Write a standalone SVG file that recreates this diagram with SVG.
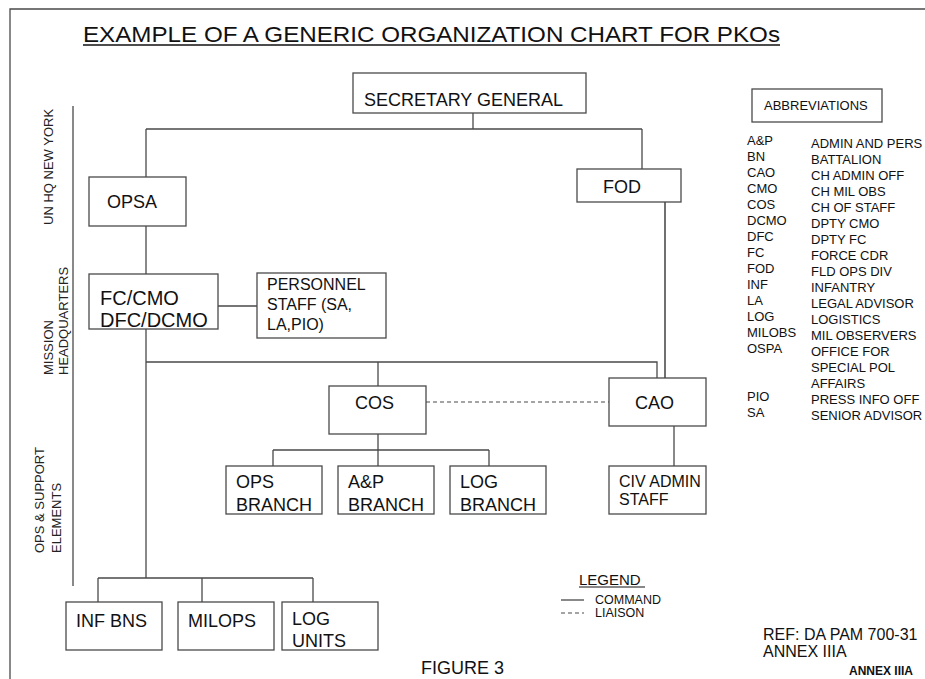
<svg xmlns="http://www.w3.org/2000/svg" width="925" height="679" viewBox="0 0 925 679">
<style>
text{font-family:"Liberation Sans",Arial,sans-serif;fill:#111}
.box{fill:#fff;stroke:#4a4a4a;stroke-width:1.3}
.ln{fill:none;stroke:#4a4a4a;stroke-width:1.3}
.blk{fill:none;stroke:#111;stroke-width:1.2}
.dash{fill:none;stroke:#4a4a4a;stroke-width:1.2;stroke-dasharray:4 3}
.n18{font-size:18px}
.n16{font-size:16px}
.sec{font-size:13px;fill:#222}
.ab{font-size:13px}
</style>
<rect width="925" height="679" fill="#fff"/>
<g id="frame">
<path class="ln" d="M10,679 V9 H925"/>
<path class="ln" d="M73,106 V586"/>
</g>
<g id="title">
<text x="83" y="42" font-size="22" textLength="697" lengthAdjust="spacingAndGlyphs">EXAMPLE OF A GENERIC ORGANIZATION CHART FOR PKOs</text>
<line x1="83" y1="45" x2="780" y2="45" stroke="#111" stroke-width="1.5"/>
</g>
<g id="section-labels">
<text class="sec" transform="translate(53,225) rotate(-90)">UN HQ NEW YORK</text>
<text class="sec" transform="translate(53,375) rotate(-90)">MISSION</text>
<text class="sec" transform="translate(68,375) rotate(-90)">HEADQUARTERS</text>
<text class="sec" transform="translate(44,553) rotate(-90)">OPS &amp; SUPPORT</text>
<text class="sec" transform="translate(61,553) rotate(-90)">ELEMENTS</text>
</g>
<g id="connectors">
<path class="ln" d="M473,113 V129 M146,129 H642 M146,129 V177 M642,129 V169 M146,226 V274 M218,306 H257 M146,329 V578 M146,362 H657 V378 M378,362 V386 M674,426 V466 M378,434 V450 M273,450 H489 M273,450 V466 M378,450 V466 M489,450 V466 M98,578 H313 M98,578 V602 M202,578 V602 M313,578 V602"/>
<path class="blk" d="M665,202 V378"/>
<path class="dash" d="M426,402 H609"/>
</g>
<g id="sg"><rect class="box" x="353" y="73" width="233" height="40"/><text class="n18" x="364" y="106">SECRETARY GENERAL</text></g>
<g id="opsa"><rect class="box" x="89" y="177" width="97" height="49"/><text class="n18" x="107" y="208">OPSA</text></g>
<g id="fod"><rect class="box" x="577" y="169" width="104" height="33"/><text class="n18" x="603" y="193">FOD</text></g>
<g id="fc"><rect class="box" x="89" y="274" width="129" height="55"/><text font-size="20" x="100" y="305">FC/CMO</text><text font-size="20" x="100" y="327">DFC/DCMO</text></g>
<g id="pers"><rect class="box" x="257" y="273" width="129" height="65"/><text class="n16" x="267" y="290">PERSONNEL</text><text class="n16" x="267" y="310">STAFF (SA,</text><text class="n16" x="267" y="330">LA,PIO)</text></g>
<g id="cos"><rect class="box" x="329" y="386" width="97" height="48"/><text class="n18" x="355" y="409">COS</text></g>
<g id="cao"><rect class="box" x="609" y="378" width="97" height="48"/><text class="n18" x="635" y="409">CAO</text></g>
<g id="ops-branch"><rect class="box" x="226" y="466" width="96" height="48"/><text class="n18" x="236" y="488">OPS</text><text class="n18" x="236" y="511">BRANCH</text></g>
<g id="ap-branch"><rect class="box" x="338" y="466" width="96" height="48"/><text class="n18" x="348" y="488">A&amp;P</text><text class="n18" x="348" y="511">BRANCH</text></g>
<g id="log-branch"><rect class="box" x="450" y="466" width="96" height="48"/><text class="n18" x="460" y="488">LOG</text><text class="n18" x="460" y="511">BRANCH</text></g>
<g id="civ-admin"><rect class="box" x="609" y="466" width="97" height="48"/><text class="n16" x="619" y="487">CIV ADMIN</text><text class="n16" x="619" y="505">STAFF</text></g>
<g id="inf-bns"><rect class="box" x="66" y="602" width="96" height="48"/><text class="n18" x="76" y="627">INF BNS</text></g>
<g id="milops"><rect class="box" x="178" y="602" width="96" height="48"/><text class="n18" x="188" y="627">MILOPS</text></g>
<g id="log-units"><rect class="box" x="282" y="602" width="96" height="48"/><text class="n18" x="292" y="625">LOG</text><text class="n18" x="292" y="647">UNITS</text></g>
<g id="abbreviations">
<rect class="box" x="752" y="89" width="130" height="33"/>
<text class="ab" x="764" y="110">ABBREVIATIONS</text>
<g class="ab">
<text class="ab" x="747" y="145">A&amp;P</text><text class="ab" x="811" y="148">ADMIN AND PERS</text>
<text class="ab" x="747" y="161">BN</text><text class="ab" x="811" y="164">BATTALION</text>
<text class="ab" x="747" y="177">CAO</text><text class="ab" x="811" y="180">CH ADMIN OFF</text>
<text class="ab" x="747" y="193">CMO</text><text class="ab" x="811" y="196">CH MIL OBS</text>
<text class="ab" x="747" y="209">COS</text><text class="ab" x="811" y="212">CH OF STAFF</text>
<text class="ab" x="747" y="225">DCMO</text><text class="ab" x="811" y="228">DPTY CMO</text>
<text class="ab" x="747" y="241">DFC</text><text class="ab" x="811" y="244">DPTY FC</text>
<text class="ab" x="747" y="257">FC</text><text class="ab" x="811" y="260">FORCE CDR</text>
<text class="ab" x="747" y="273">FOD</text><text class="ab" x="811" y="276">FLD OPS DIV</text>
<text class="ab" x="747" y="289">INF</text><text class="ab" x="811" y="292">INFANTRY</text>
<text class="ab" x="747" y="305">LA</text><text class="ab" x="811" y="308">LEGAL ADVISOR</text>
<text class="ab" x="747" y="321">LOG</text><text class="ab" x="811" y="324">LOGISTICS</text>
<text class="ab" x="747" y="337">MILOBS</text><text class="ab" x="811" y="340">MIL OBSERVERS</text>
<text class="ab" x="747" y="353">OSPA</text><text class="ab" x="811" y="356">OFFICE FOR</text>
<text class="ab" x="811" y="372">SPECIAL POL</text>
<text class="ab" x="811" y="388">AFFAIRS</text>
<text class="ab" x="747" y="401">PIO</text><text class="ab" x="811" y="404">PRESS INFO OFF</text>
<text class="ab" x="747" y="417">SA</text><text class="ab" x="811" y="420">SENIOR ADVISOR</text>
</g>
</g>
<g id="legend">
<text x="579" y="585" font-size="15">LEGEND</text>
<line x1="579" y1="587" x2="645" y2="587" stroke="#111" stroke-width="1"/>
<line class="ln" x1="561" y1="600" x2="584" y2="600"/>
<text x="595" y="604" font-size="12.5">COMMAND</text>
<line class="dash" x1="561" y1="613" x2="584" y2="613"/>
<text x="595" y="617" font-size="12.5">LIAISON</text>
</g>
<g id="footer">
<text x="763" y="640" font-size="16">REF: DA PAM 700-31</text>
<text x="763" y="657" font-size="16">ANNEX IIIA</text>
<text x="421" y="674" font-size="18">FIGURE 3</text>
<text x="849" y="675" font-size="12" font-weight="bold">ANNEX IIIA</text>
</g>
</svg>
